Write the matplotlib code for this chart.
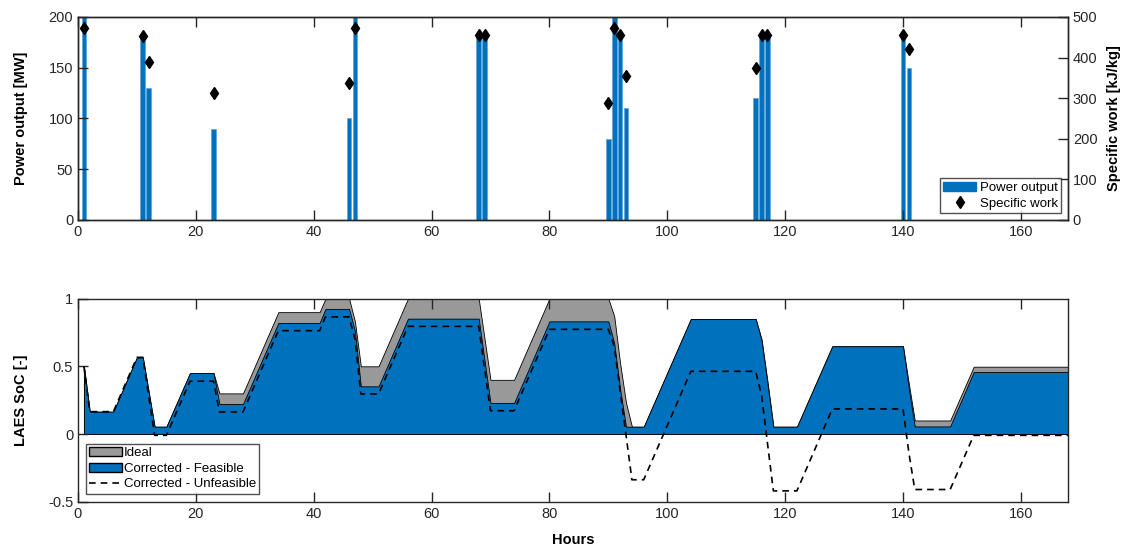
import numpy as np
import matplotlib
matplotlib.use('Agg')
import matplotlib.pyplot as plt
from matplotlib.patches import Patch
from matplotlib.lines import Line2D

plt.rcParams['font.family'] = ['Liberation Sans', 'DejaVu Sans']
plt.rcParams['axes.linewidth'] = 1.0

BLUE = '#0072BD'
GREY = '#999999'
DARK = '#262626'

# top panel: discharge hours
bar_hours = [1, 11, 12, 23, 46, 47, 68, 69, 90, 91, 92, 93, 115, 116, 117, 140, 141]
power_mw = [220, 180, 130, 90, 100, 220, 182, 182, 80, 220, 181, 110, 120, 182, 182, 182, 150]
specific_work = [472, 454, 388, 313, 337, 472, 455, 455, 289, 473, 455, 355, 374, 455, 455, 455, 420]

# bottom panel: state of charge breakpoints
soc_hours = [1, 2, 6, 10, 11, 12, 13, 15, 19, 23, 24, 28, 34, 41, 42, 46, 47, 48, 51, 56,
             68, 69, 70, 74, 80, 90, 91, 92, 93, 94, 96, 104, 115, 116, 117, 118, 122, 128,
             140, 141, 142, 148, 152, 168]
soc_ideal = [0.50, 0.165, 0.165, 0.566, 0.566, 0.31, 0.054, 0.054, 0.45, 0.45, 0.30, 0.30,
             0.90, 0.90, 1.0, 1.0, 0.83, 0.50, 0.50, 1.0, 1.0, 0.70, 0.40, 0.40, 1.0, 1.0,
             0.87, 0.52, 0.23, 0.054, 0.054, 0.85, 0.85, 0.70, 0.39, 0.054, 0.054, 0.648,
             0.648, 0.37, 0.10, 0.10, 0.497, 0.497]
soc_feasible = [0.50, 0.165, 0.165, 0.566, 0.566, 0.31, 0.054, 0.054, 0.45, 0.45, 0.222, 0.222,
                0.82, 0.82, 0.924, 0.924, 0.76, 0.352, 0.352, 0.852, 0.852, 0.54, 0.229, 0.229,
                0.832, 0.832, 0.67, 0.33, 0.054, 0.054, 0.054, 0.85, 0.85, 0.69, 0.37, 0.054,
                0.054, 0.648, 0.648, 0.33, 0.056, 0.056, 0.458, 0.458]
soc_unfeasible = [0.50, 0.165, 0.165, 0.566, 0.566, 0.28, -0.01, -0.01, 0.39, 0.39, 0.163, 0.163,
                  0.763, 0.763, 0.865, 0.865, 0.70, 0.296, 0.296, 0.795, 0.795, 0.48, 0.172, 0.172,
                  0.773, 0.773, 0.648, 0.32, -0.01, -0.338, -0.338, 0.463, 0.463, 0.286, -0.067,
                  -0.42, -0.42, 0.185, 0.185, -0.14, -0.41, -0.41, -0.01, -0.01]

fig = plt.figure(figsize=(11.29, 5.49), dpi=100)
W, H = 1129, 549


def axes_px(left, top, right, bottom):
    return fig.add_axes([left / W, 1 - bottom / H, (right - left) / W, (bottom - top) / H])


def style(ax):
    ax.tick_params(direction='in', length=7, width=1.0, colors=DARK, labelsize=10.5)
    for s in ax.spines.values():
        s.set_color(DARK)


# ---- top panel
ax1 = axes_px(78, 17, 1068, 220)
ax1.bar(bar_hours, power_mw, width=0.8, color=BLUE, edgecolor='#5ea5dc', linewidth=0.5)
ax1.set_xlim(0, 168)
ax1.set_ylim(0, 200)
ax1.set_xticks(np.arange(0, 161, 20))
ax1.set_yticks(np.arange(0, 201, 50))
ax1.tick_params(top=True)
ax1.set_ylabel('Power output [MW]', fontweight='bold', fontsize=10.5, color='black',
               labelpad=15)
style(ax1)

ax2 = ax1.twinx()
ax2.plot(bar_hours, specific_work, linestyle='none', marker='d', markersize=6.5,
         color='black')
ax2.set_ylim(0, 500)
ax2.set_yticks(np.arange(0, 501, 100))
ax2.set_ylabel('Specific work [kJ/kg]', fontweight='bold', fontsize=10.5, color='black',
               labelpad=7)
style(ax2)
ax2.tick_params(top=False)

h_top = [Patch(facecolor=BLUE, edgecolor=BLUE, label='Power output'),
         Line2D([], [], linestyle='none', marker='d', markersize=6.5, color='black',
                label='Specific work')]
leg = ax2.legend(handles=h_top, loc='lower right', fontsize=9.5, frameon=True, fancybox=False,
                 edgecolor=DARK, handlelength=2.5, handletextpad=0.3, labelspacing=0.3,
                 borderpad=0.25, borderaxespad=0.5)
leg.get_frame().set_linewidth(1.0)

# ---- bottom panel
ax3 = axes_px(78, 298.6, 1068, 501.7)
ax3.fill_between(soc_hours, 0, soc_ideal, facecolor=GREY, edgecolor='black', linewidth=0.6,
                 label='Ideal')
ax3.fill_between(soc_hours, 0, soc_feasible, facecolor=BLUE, edgecolor='black', linewidth=0.6,
                 label='Corrected - Feasible')
ax3.plot(soc_hours, soc_unfeasible, color='black', linewidth=1.2, dashes=(4, 3),
         label='Corrected - Unfeasible')
ax3.set_xlim(0, 168)
ax3.set_ylim(-0.5, 1)
ax3.set_xticks(np.arange(0, 161, 20))
ax3.set_yticks([-0.5, 0, 0.5, 1])
ax3.set_yticklabels(['-0.5', '0', '0.5', '1'])
ax3.tick_params(top=True)
ax3.set_xlabel('Hours', fontweight='bold', fontsize=10.5, color='black', labelpad=9)
ax3.set_ylabel('LAES SoC [-]', fontweight='bold', fontsize=10.5, color='black', labelpad=14)
style(ax3)

h_bot = [Patch(facecolor=GREY, edgecolor='black', label='Ideal'),
         Patch(facecolor=BLUE, edgecolor='black', label='Corrected - Feasible'),
         Line2D([], [], color='black', linewidth=1.2, dashes=(4, 3),
                label='Corrected - Unfeasible')]
leg2 = ax3.legend(handles=h_bot, loc='lower left', fontsize=9.5, frameon=True, fancybox=False,
                  edgecolor=DARK, handlelength=2.5, handletextpad=0.1, labelspacing=0.25,
                  borderpad=0.25, borderaxespad=0.6)
leg2.get_frame().set_linewidth(1.0)

fig.savefig('out.png', dpi=100)
